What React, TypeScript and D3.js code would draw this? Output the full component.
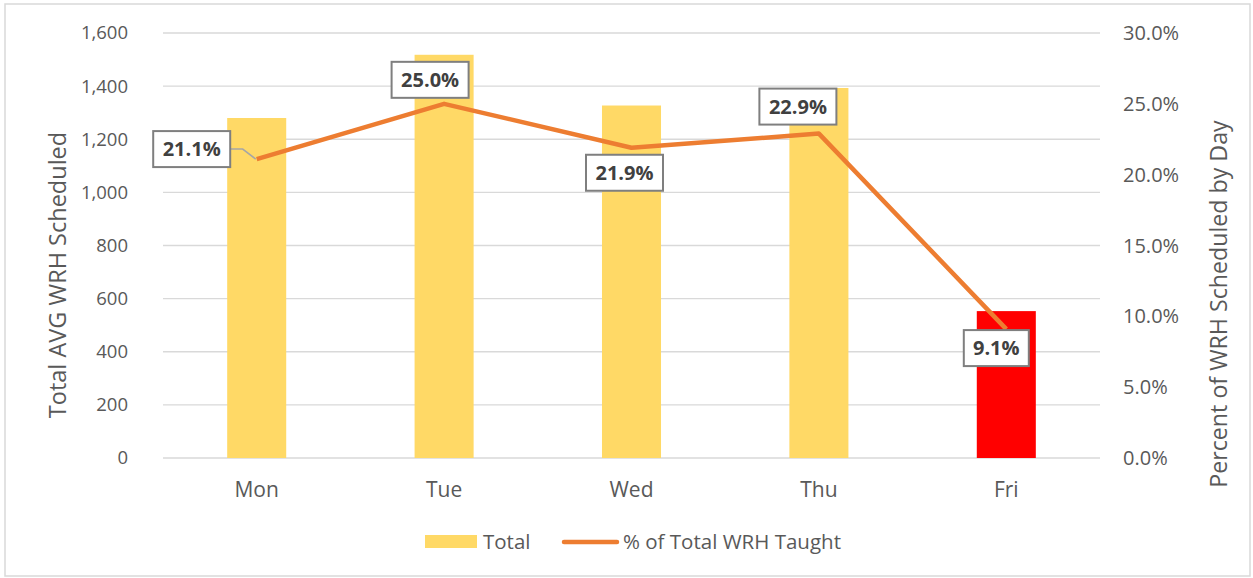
import * as d3 from "d3";

const days = ["Mon", "Tue", "Wed", "Thu", "Fri"];
const totals = [1280, 1518, 1327, 1393, 553];
const pctTaught = [21.1, 25.0, 21.9, 22.9, 9.1];
const leftTicks = [0, 200, 400, 600, 800, 1000, 1200, 1400, 1600];
const rightTicks = [0, 5, 10, 15, 20, 25, 30];

// where each data label box sits, relative to its point
const labelOffsets = [
  [-65, -10],
  [-14, -24],
  [-7, 25],
  [-21, -27],
  [-10, 19],
];

const W = 1253;
const H = 578;
const margin = { top: 33, right: 153, bottom: 120, left: 163 };
const FONT = "'Open Sans', sans-serif";

export default function App() {
  const innerW = W - margin.left - margin.right;
  const innerH = H - margin.top - margin.bottom;

  const x = d3.scaleBand<string>().domain(days).range([0, innerW]).padding(0);
  const barW = x.bandwidth() * 0.315;
  const yL = d3.scaleLinear().domain([0, 1600]).range([innerH, 0]);
  const yR = d3.scaleLinear().domain([0, 30]).range([innerH, 0]);
  const cx = (d: string) => (x(d) ?? 0) + x.bandwidth() / 2;

  const line = d3
    .line<number>()
    .x((_, i) => cx(days[i]))
    .y((v) => yR(v));

  const fmt = d3.format(",");

  return (
    <svg
      width={W}
      height={H}
      style={{ position: "absolute", left: 0, top: 0, fontFamily: FONT, background: "#fff" }}
    >
      <rect x={5} y={4} width={W - 8} height={H - 6} fill="#fff" stroke="#d9d9d9" strokeWidth={1.5} />
      <g transform={`translate(${margin.left},${margin.top})`}>
        {leftTicks.map((t) => (
          <g key={t}>
            <line x1={0} x2={innerW} y1={yL(t)} y2={yL(t)} stroke="#d9d9d9" strokeWidth={1.3} />
            <text x={-35} y={yL(t)} dy="0.35em" textAnchor="end" fontSize={18.5} fill="#595959">
              {fmt(t)}
            </text>
          </g>
        ))}
        {rightTicks.map((t) => (
          <text key={t} x={innerW + 23} y={yR(t)} dy="0.35em" fontSize={20} fill="#595959">
            {t.toFixed(1)}%
          </text>
        ))}
        {days.map((d, i) => (
          <rect
            key={d}
            x={cx(d) - barW / 2}
            y={yL(totals[i])}
            width={barW}
            height={innerH - yL(totals[i])}
            fill={d === "Fri" ? "#ff0000" : "#ffd966"}
          />
        ))}
        {days.map((d) => (
          <text key={d} x={cx(d)} y={innerH + 39} textAnchor="middle" fontSize={21} fill="#595959">
            {d}
          </text>
        ))}
        <path d={line(pctTaught) ?? ""} fill="none" stroke="#ed7d31" strokeWidth={4.5} strokeLinejoin="round" />
        {/* leader line for Mon label */}
        <polyline
          points={`${cx(days[0]) + labelOffsets[0][0] + 39},${yR(pctTaught[0]) + labelOffsets[0][1]} ${cx(days[0]) - 14},${yR(pctTaught[0]) + labelOffsets[0][1]} ${cx(days[0]) - 1},${yR(pctTaught[0])}`}
          fill="none"
          stroke="#a6a6a6"
          strokeWidth={1.5}
        />
        {days.map((d, i) => {
          const lx = cx(d) + labelOffsets[i][0];
          const ly = yR(pctTaught[i]) + labelOffsets[i][1];
          const bw = d === "Fri" ? 65 : 77;
          return (
            <g key={d}>
              <rect x={lx - bw / 2} y={ly - 18} width={bw} height={36} fill="#fff" stroke="#7f7f7f" strokeWidth={2} />
              <text x={lx} y={ly} dy="0.36em" textAnchor="middle" fontSize={20} fontWeight="bold" fill="#404040">
                {pctTaught[i].toFixed(1)}%
              </text>
            </g>
          );
        })}
      </g>
      <text transform="translate(66,275) rotate(-90)" textAnchor="middle" fontSize={23.5} fill="#595959">
        Total AVG WRH Scheduled
      </text>
      <text transform="translate(1227,304) rotate(-90)" textAnchor="middle" fontSize={23.2} fill="#595959">
        Percent of WRH Scheduled by Day
      </text>
      <g>
        <rect x={425} y={535} width={52} height={13} fill="#ffd966" />
        <text x={483} y={542} dy="0.35em" fontSize={20.5} fill="#595959">
          Total
        </text>
        <line x1={564} x2={617} y1={542} y2={542} stroke="#ed7d31" strokeWidth={4.5} strokeLinecap="round" />
        <text x={623} y={542} dy="0.35em" fontSize={20.5} fill="#595959">
          % of Total WRH Taught
        </text>
      </g>
    </svg>
  );
}
